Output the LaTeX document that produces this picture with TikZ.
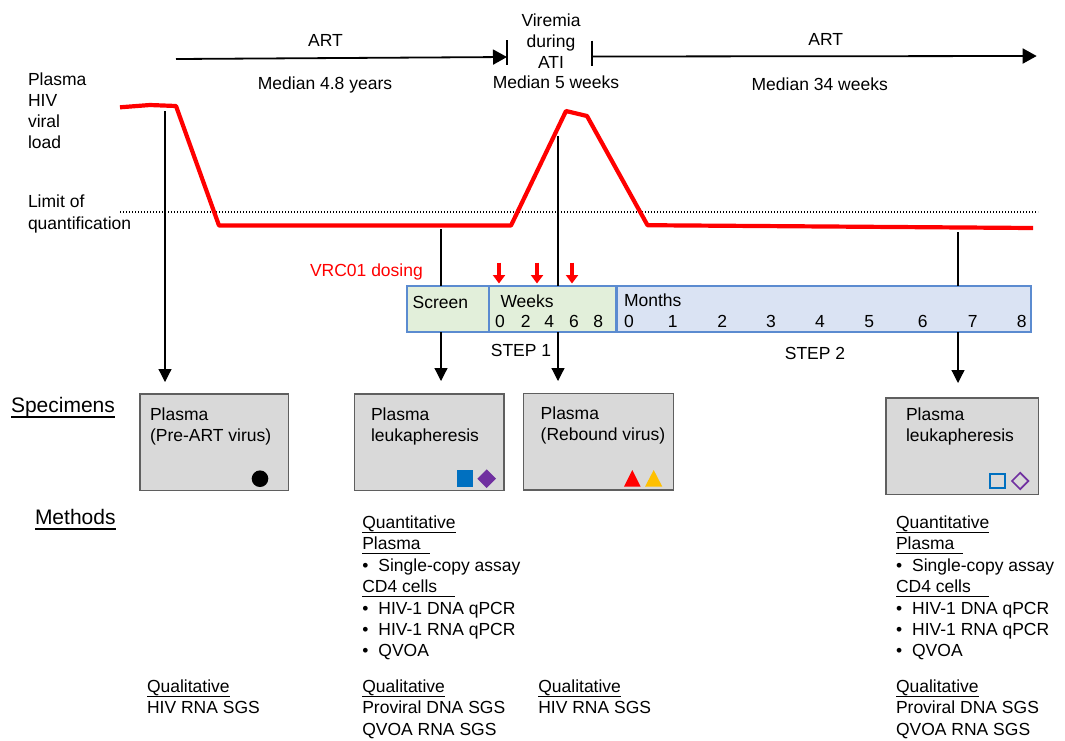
\documentclass[tikz,border=0pt]{standalone}
\usepackage{fontspec}
\setmainfont{Liberation Sans}
\usetikzlibrary{positioning}
\usetikzlibrary{arrows.meta}

\definecolor{viralred}{RGB}{255,0,0}
\definecolor{screengreen}{RGB}{226,239,218}
\definecolor{monthblue}{RGB}{218,227,243}
\definecolor{tlborder}{RGB}{91,139,208}
\definecolor{specfill}{RGB}{217,217,217}
\definecolor{specborder}{RGB}{95,95,95}
\definecolor{symblue}{RGB}{0,112,192}
\definecolor{sympurple}{RGB}{112,48,160}
\definecolor{symyellow}{RGB}{255,192,0}

\newsavebox\ulsave
\newcommand{\ulbox}[2][0pt]{\sbox\ulsave{#2\hspace{#1}}\rlap{\rule[-4.5pt]{\wd\ulsave}{1.2pt}}\usebox\ulsave}
\newcommand{\bigul}[1]{\sbox\ulsave{#1}\rlap{\rule[-5.5pt]{\wd\ulsave}{1.3pt}}\usebox\ulsave}

\begin{document}
\begin{tikzpicture}[x=1pt, y=-1pt,
            every node/.style={font=\fontsize{17.5}{21.4}\selectfont, inner sep=0pt, outer sep=0pt},
            blocktext/.style={anchor=north west, align=left},
            specbox/.style={rectangle, draw=specborder, fill=specfill, line width=1.3pt, anchor=north west, minimum height=96.5pt},
            tlbox/.style={rectangle, draw=tlborder, line width=1.2pt, anchor=north west, minimum height=46pt},
            conn/.style={line width=1.2pt},
            connarrow/.style={line width=1.2pt, -{Triangle[length=13pt,width=13pt]}},
            topline/.style={line width=1.8pt, -{Triangle[length=14pt,width=15pt]}},
            dosearrow/.style={viralred, line width=3.6pt, -{Triangle[length=8.5pt,width=12pt]}},
            ]
            \useasboundingbox (0,0) rectangle (1065,740);

            % time spans on top
            \node[anchor=base] (art1) at (325.5,46) {ART};
            \node[anchor=base] (med1) at (325,89.5) {Median 4.8 years};
            \node[anchor=north, align=center, font=\fontsize{17.5}{20.6}\selectfont] (viremia) at (551,14.2) {Viremia\\during\\ATI};
            \node[anchor=base] (med2) at (556,88.3) {Median 5 weeks};
            \node[anchor=base] (art2) at (825.8,45.7) {ART};
            \node[anchor=base] (med3) at (819.7,90.7) {Median 34 weeks};

            \coordinate (art1s) at (176,59);
            \coordinate (art1e) at (507,57);
            \coordinate (bar1t) at (507,40);
            \coordinate (bar1b) at (507,65);
            \coordinate (art2s) at (592,56.5);
            \coordinate (art2e) at (1036.7,56);
            \coordinate (bar2t) at (592,40.7);
            \coordinate (bar2b) at (592,65.7);
            \draw[topline] (art1s) -- (art1e);
            \draw[line width=1.8pt] (bar1t) -- (bar1b);
            \draw[topline] (art2s) -- (art2e);
            \draw[line width=1.8pt] (bar2t) -- (bar2b);

            % viral load
            \node[blocktext, font=\fontsize{17.5}{21}\selectfont] (vl) at (28,72.5) {Plasma\\HIV\\viral\\load};
            \node[blocktext, font=\fontsize{17.5}{22}\selectfont] (loq) at (28,194.5) {Limit of\\quantification};
            \draw[line width=1.3pt, dash pattern=on 1.3pt off 1.7pt] (120,212) -- (1038,212);
            \draw[viralred, line width=4.2pt, line join=round]
                (120,107.3) -- (150,105) -- (176,106) -- (219,225.5) -- (511,225.5)
                -- (566,111) -- (587,116) -- (647.5,225.2) -- (1033,228);

            % timeline boxes
            \node[tlbox, fill=screengreen, minimum width=82pt] (screen) at (407,286) {};
            \node[tlbox, fill=screengreen, minimum width=126.3pt] (weeks) at (489,286) {};
            \node[tlbox, fill=monthblue, minimum width=414pt] (months) at (617,286) {};
            \node[anchor=base west] (screenlbl) at (412.7,308.3) {Screen};
            \node[anchor=base west] (weekslbl) at (500.5,307.5) {Weeks};
            \node[anchor=base west] (monthslbl) at (624,306.7) {Months};
            \foreach \n/\x in {0/500, 2/525.7, 4/549.3, 6/574, 8/598.3}
                \node[anchor=base] (wk\n) at (\x,327.5) {\n};
            \foreach \n/\x in {0/629, 1/672.7, 2/722.3, 3/771, 4/820, 5/869.3, 6/922.7, 7/972.7, 8/1021.7}
                \node[anchor=base] (mo\n) at (\x,327.5) {\n};
            \node[anchor=base] (step1) at (521,356) {STEP 1};
            \node[anchor=base] (step2) at (815,359) {STEP 2};

            % dosing
            \node[anchor=base west, text=viralred] (dosing) at (310,276.7) {VRC01 dosing};
            \foreach \i/\x in {0/499, 1/537, 2/572} {
                \coordinate (dose\i s) at (\x,262.5);
                \coordinate (dose\i e) at (\x,283.5);
                \draw[dosearrow] (dose\i s) -- (dose\i e);
            }

            % specimens
            \node[anchor=base west, font=\fontsize{21}{25}\selectfont] (specimens) at (11,412) {\bigul{Specimens}};
            \node[specbox, minimum width=148.5pt] (spec1) at (140,394) {};
            \node[specbox, minimum width=149.5pt] (spec2) at (354.5,394) {};
            \node[specbox, minimum width=150pt] (spec3) at (523.3,393.5) {};
            \node[specbox, minimum width=152.3pt, minimum height=96.5pt] (spec4) at (886,398) {};
            \node[blocktext, font=\fontsize{17.5}{21}\selectfont] (spec1txt) at (150,407.5) {Plasma\\(Pre-ART virus)};
            \node[blocktext, font=\fontsize{17.5}{21}\selectfont] (spec2txt) at (371,407.5) {Plasma\\leukapheresis};
            \node[blocktext, font=\fontsize{17.5}{21}\selectfont] (spec3txt) at (540.7,407) {Plasma\\(Rebound virus)};
            \node[blocktext, font=\fontsize{17.5}{21}\selectfont] (spec4txt) at (906,408.2) {Plasma\\leukapheresis};

            % symbols
            \fill (260,478.7) circle (8.3pt);
            \fill[symblue] (456.7,470) rectangle (473.3,486.7);
            \fill[sympurple] (477.4,478.7) -- (486.7,469.4) -- (496,478.7) -- (486.7,488) -- cycle;
            \fill[viralred] (624,486.7) -- (640.7,486.7) -- (632.3,470) -- cycle;
            \fill[symyellow] (645,486.7) -- (662.3,486.7) -- (653.7,470) -- cycle;
            \draw[symblue, line width=1.7pt] (990.1,474.1) rectangle (1004.9,488.2);
            \draw[sympurple, line width=1.7pt] (1012,481) -- (1020.2,472.8) -- (1028.4,481) -- (1020.2,489.2) -- cycle;

            % connectors
            \coordinate (pre0) at (165,111);
            \coordinate (pre1) at (165,382);
            \draw[connarrow] (pre0) -- (pre1);
            \coordinate (scr0) at (441,229);
            \coordinate (scr1) at (441,381);
            \draw[conn] (scr0) -- (scr0 |- screen.north);
            \draw[connarrow] (scr0 |- screen.south) -- (scr1);
            \coordinate (reb0) at (558,136);
            \coordinate (reb1) at (558,381);
            \draw[conn] (reb0) -- (reb0 |- weeks.north);
            \draw[connarrow] (reb0 |- weeks.south) -- (reb1);
            \coordinate (lat0) at (958,232);
            \coordinate (lat1) at (958,383);
            \draw[conn] (lat0) -- (lat0 |- months.north);
            \draw[connarrow] (lat0 |- months.south) -- (lat1);

            % methods
            \node[anchor=base west, font=\fontsize{21}{25}\selectfont] (methods) at (35,524) {\bigul{Methods}};
            \node[blocktext] (quant2) at (362.3,515.8) {\ulbox{Quantitative}\\\ulbox[9pt]{Plasma}\\\textbullet\hspace{10pt}Single-copy assay\\\ulbox[18pt]{CD4 cells}\\\textbullet\hspace{10pt}HIV-1 DNA qPCR\\\textbullet\hspace{10pt}HIV-1 RNA qPCR\\\textbullet\hspace{10pt}QVOA};
            \node[blocktext] (quant4) at (896,515.8) {\ulbox{Quantitative}\\\ulbox[9pt]{Plasma}\\\textbullet\hspace{10pt}Single-copy assay\\\ulbox[18pt]{CD4 cells}\\\textbullet\hspace{10pt}HIV-1 DNA qPCR\\\textbullet\hspace{10pt}HIV-1 RNA qPCR\\\textbullet\hspace{10pt}QVOA};
            \node[blocktext] (qual1) at (147,679.6) {\ulbox{Qualitative}\\HIV RNA SGS};
            \node[blocktext] (qual2) at (362.3,679.6) {\ulbox{Qualitative}\\Proviral DNA SGS\\QVOA RNA SGS};
            \node[blocktext] (qual3) at (538.3,679.6) {\ulbox{Qualitative}\\HIV RNA SGS};
            \node[blocktext] (qual4) at (896,679.6) {\ulbox{Qualitative}\\Proviral DNA SGS\\QVOA RNA SGS};
        \end{tikzpicture}
\end{document}
